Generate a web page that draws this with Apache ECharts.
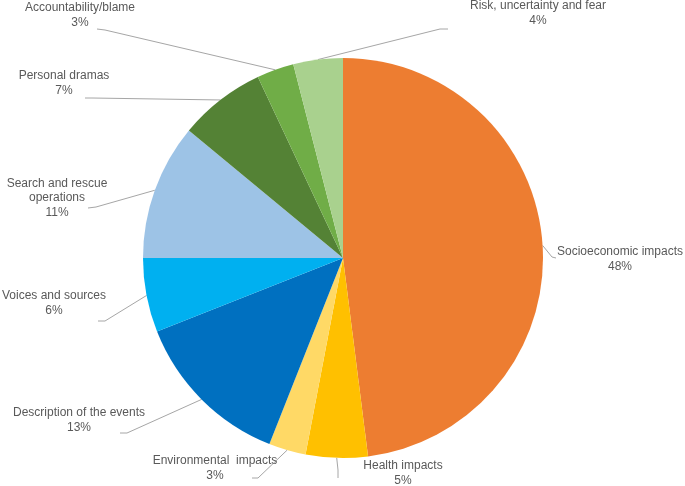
<!DOCTYPE html>
<html>
<head>
<meta charset="utf-8">
<script src="https://cdn.jsdelivr.net/npm/echarts@6/dist/echarts.min.js"></script>
<style>html,body{margin:0;padding:0;background:#fff;}#c{width:685px;height:486px;}</style>
</head>
<body>
<div id="c"></div>
<script>
const categories = ["Socioeconomic impacts","Health impacts","Environmental  impacts","Description of the events","Voices and sources","Search and rescue\noperations","Personal dramas","Accountability/blame","Risk, uncertainty and fear"];
const values = [48,5,3,13,6,11,7,3,4];
const colors = ["#ED7D31","#FFC000","#FFD966","#0070C0","#00B0F0","#9DC3E6","#548235","#70AD47","#A9D18E"];

// label block centre, elbow point and end point of leader lines
const labelLayouts = [
  {x:620,y:259,elbow:[552,257],end:[556,258]},
  {x:403,y:473,elbow:[338,470],end:[338,478]},
  {x:215,y:468,elbow:[258,478],end:[252,478]},
  {x:79,y:420,elbow:[127,433],end:[120,433]},
  {x:54,y:303,elbow:[105,321],end:[98,321]},
  {x:57,y:198,elbow:[96,207],end:[88,208]},
  {x:64,y:83,elbow:[92,98],end:[85,98]},
  {x:80,y:15,elbow:[105,30],end:[97,29]},
  {x:538,y:13,elbow:[440,29],end:[448,29]}
];

const chart = echarts.init(document.getElementById('c'), null, {renderer:'canvas'});
const cx = 343, cy = 258, R = 200;
const total = values.reduce((a,b)=>a+b,0);
chart.setOption({
  animation:false,
  backgroundColor:'#fff',
  series:[{
    type:'pie',
    center:[cx,cy],
    radius:[0,R],
    startAngle:90,
    clockwise:true,
    data: categories.map((n,i)=>({name:n,value:values[i],itemStyle:{color:colors[i]}})),
    label:{
      show:true,
      position:'outside',
      formatter: p => p.name + '\n' + p.value + '%',
      fontFamily:'Liberation Sans, Arial, sans-serif',
      fontSize:12,
      lineHeight:14.5,
      color:'#595959',
      align:'center',
      overflow:'none'
    },
    labelLine:{show:true,length:10,length2:10,lineStyle:{color:'#A6A6A6',width:1}},
    labelLayout: function(params){
      const i = params.dataIndex;
      const L = labelLayouts[i];
      let cum = 0;
      for (let k=0;k<i;k++) cum += values[k];
      const mid = (cum + values[i]/2)/total * Math.PI * 2;
      const start = [cx + R*Math.sin(mid), cy - R*Math.cos(mid)];
      return {
        x:L.x, y:L.y, align:'center', verticalAlign:'middle',
        labelLinePoints:[start, L.elbow, L.end]
      };
    }
  }]
});
</script>
</body>
</html>
